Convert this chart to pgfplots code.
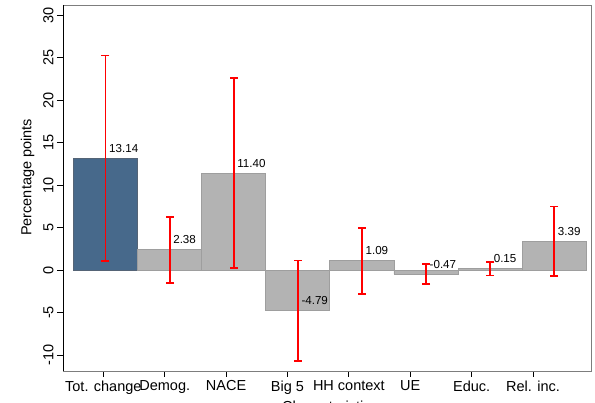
\documentclass[border=0pt]{standalone}
\usepackage{pgfplots}
\pgfplotsset{compat=1.18}
\usepackage{fontspec}
\setmainfont{Liberation Sans}
\definecolor{barblue}{RGB}{71,105,139}
\definecolor{blueedge}{RGB}{85,100,118}
\definecolor{bargray}{RGB}{179,179,179}
\definecolor{grayedge}{RGB}{158,158,158}
\definecolor{framegray}{RGB}{125,125,125}
\tikzset{
  vlbl/.style={font=\fontsize{11.6}{13}\selectfont, anchor=base west, inner sep=0pt, xshift=3.5pt, yshift=6pt}
}
\begin{document}
\begin{tikzpicture}
\begin{axis}[
  at={(63pt,32pt)}, anchor=south west,
  scale only axis, width=528pt, height=366pt,
  xmin=0.337, xmax=8.574, ymin=-11.88, ymax=31.18,
  axis line style={framegray, line width=0.8pt},
  xtick={0.966,1.924,2.881,3.839,4.797,5.754,6.712,7.670},
  xticklabels={Tot. change,Demog.,NACE,Big 5,HH context,UE,Educ.,Rel. inc.},
  ytick={-10,-5,...,30},
  xtick pos=bottom, ytick pos=left,
  tick align=outside, major tick length=6pt,
  tick style={black, line width=0.8pt},
  tick label style={font=\fontsize{14.5}{17}\selectfont},
  y tick label style={rotate=90, anchor=south},
  /pgf/number format/assume math mode=true,
  ylabel={Percentage points},
  ylabel style={at={(axis description cs:-0.0672,0.5287)}, anchor=center, font=\fontsize{14.5}{17}\selectfont},
  xlabel={Characteristics},
  xlabel style={at={(axis description cs:0.5,0)}, anchor=base, yshift=-40.5pt, xshift=3pt, font=\fontsize{14.5}{17}\selectfont},
  unbounded coords=jump,
]
% bars
\addplot[ybar, bar width=1, bar shift=0pt, fill=barblue, draw=blueedge, line width=0.8pt]
  coordinates {(1,13.14)};
\addplot[ybar, bar width=1, bar shift=0pt, fill=bargray, draw=grayedge, line width=0.8pt]
  coordinates {(2,2.38) (3,11.40) (4,-4.79) (5,1.09) (6,-0.47) (7,0.15) (8,3.39)};
% confidence intervals: lower and upper bound per category
\addplot[red, line width=1.8pt, mark=-, mark size=4pt, mark options={solid, red, line width=1.8pt}]
  coordinates {
    (1,1.04) (1,25.24) (1,nan)
    (2,-1.50) (2,6.26) (2,nan)
    (3,0.20) (3,22.60) (3,nan)
    (4,-10.69) (4,1.11) (4,nan)
    (5,-2.80) (5,4.98) (5,nan)
    (6,-1.65) (6,0.71) (6,nan)
    (7,-0.65) (7,0.95) (7,nan)
    (8,-0.69) (8,7.47)
  };
\node[vlbl] at (axis cs:1,13.14) {13.14};
\node[vlbl] at (axis cs:2,2.38) {2.38};
\node[vlbl] at (axis cs:3,11.40) {11.40};
\node[vlbl] at (axis cs:4,-4.79) {-4.79};
\node[vlbl] at (axis cs:5,1.09) {1.09};
\node[vlbl] at (axis cs:6,-0.47) {-0.47};
\node[vlbl] at (axis cs:7,0.15) {0.15};
\node[vlbl] at (axis cs:8,3.39) {3.39};
\draw[black, line width=0.9pt] (rel axis cs:0,1) -- (rel axis cs:0,0) -- (rel axis cs:1,0);
\end{axis}
\pgfresetboundingbox
\path (0,0) rectangle (595pt,403pt);
\end{tikzpicture}
\end{document}
